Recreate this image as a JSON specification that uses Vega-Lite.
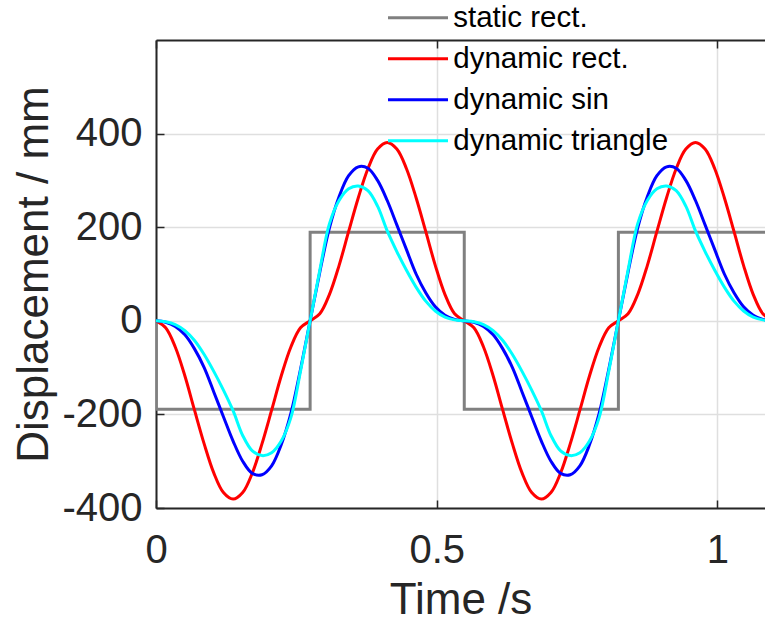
{
"$schema": "https://vega.github.io/schema/vega-lite/v6.json",
"width": 609, "height": 468,
"autosize": {"type": "none"},
"padding": {"left": 156, "top": 40, "right": 0, "bottom": 115},
"background": "white",
"config": {"view": {"stroke": null}, "font": "Liberation Sans"},
"datasets": {
"static": [
{"s":"static rect.","i":0,"t":0,"v":0},
{"s":"static rect.","i":1,"t":0,"v":-189},
{"s":"static rect.","i":2,"t":0.2745,"v":-189},
{"s":"static rect.","i":3,"t":0.2745,"v":189},
{"s":"static rect.","i":4,"t":0.549,"v":189},
{"s":"static rect.","i":5,"t":0.549,"v":-189},
{"s":"static rect.","i":6,"t":0.8235,"v":-189},
{"s":"static rect.","i":7,"t":0.8235,"v":189},
{"s":"static rect.","i":8,"t":1.098,"v":189}
],
"dyn": [
{"s":"dynamic rect.","t":0,"v":0},
{"s":"dynamic rect.","t":0.0172,"v":-15},
{"s":"dynamic rect.","t":0.0343,"v":-56},
{"s":"dynamic rect.","t":0.0515,"v":-118},
{"s":"dynamic rect.","t":0.0686,"v":-191},
{"s":"dynamic rect.","t":0.0858,"v":-263},
{"s":"dynamic rect.","t":0.1029,"v":-325},
{"s":"dynamic rect.","t":0.1201,"v":-367},
{"s":"dynamic rect.","t":0.1373,"v":-381},
{"s":"dynamic rect.","t":0.1544,"v":-367},
{"s":"dynamic rect.","t":0.1716,"v":-325},
{"s":"dynamic rect.","t":0.1887,"v":-263},
{"s":"dynamic rect.","t":0.2059,"v":-191},
{"s":"dynamic rect.","t":0.2230,"v":-118},
{"s":"dynamic rect.","t":0.2402,"v":-56},
{"s":"dynamic rect.","t":0.2573,"v":-15},
{"s":"dynamic rect.","t":0.2745,"v":0},
{"s":"dynamic rect.","t":0.2917,"v":15},
{"s":"dynamic rect.","t":0.3088,"v":56},
{"s":"dynamic rect.","t":0.3260,"v":118},
{"s":"dynamic rect.","t":0.3431,"v":191},
{"s":"dynamic rect.","t":0.3603,"v":263},
{"s":"dynamic rect.","t":0.3774,"v":325},
{"s":"dynamic rect.","t":0.3946,"v":367},
{"s":"dynamic rect.","t":0.4118,"v":381},
{"s":"dynamic rect.","t":0.4289,"v":367},
{"s":"dynamic rect.","t":0.4461,"v":325},
{"s":"dynamic rect.","t":0.4632,"v":263},
{"s":"dynamic rect.","t":0.4804,"v":191},
{"s":"dynamic rect.","t":0.4975,"v":118},
{"s":"dynamic rect.","t":0.5147,"v":56},
{"s":"dynamic rect.","t":0.5318,"v":15},
{"s":"dynamic rect.","t":0.5490,"v":0},
{"s":"dynamic rect.","t":0.5662,"v":-15},
{"s":"dynamic rect.","t":0.5833,"v":-56},
{"s":"dynamic rect.","t":0.6005,"v":-118},
{"s":"dynamic rect.","t":0.6176,"v":-191},
{"s":"dynamic rect.","t":0.6348,"v":-263},
{"s":"dynamic rect.","t":0.6519,"v":-325},
{"s":"dynamic rect.","t":0.6691,"v":-367},
{"s":"dynamic rect.","t":0.6863,"v":-381},
{"s":"dynamic rect.","t":0.7034,"v":-367},
{"s":"dynamic rect.","t":0.7206,"v":-325},
{"s":"dynamic rect.","t":0.7377,"v":-263},
{"s":"dynamic rect.","t":0.7549,"v":-191},
{"s":"dynamic rect.","t":0.7720,"v":-118},
{"s":"dynamic rect.","t":0.7892,"v":-56},
{"s":"dynamic rect.","t":0.8063,"v":-15},
{"s":"dynamic rect.","t":0.8235,"v":0},
{"s":"dynamic rect.","t":0.8407,"v":15},
{"s":"dynamic rect.","t":0.8578,"v":56},
{"s":"dynamic rect.","t":0.8750,"v":118},
{"s":"dynamic rect.","t":0.8921,"v":191},
{"s":"dynamic rect.","t":0.9093,"v":263},
{"s":"dynamic rect.","t":0.9264,"v":325},
{"s":"dynamic rect.","t":0.9436,"v":367},
{"s":"dynamic rect.","t":0.9608,"v":381},
{"s":"dynamic rect.","t":0.9779,"v":367},
{"s":"dynamic rect.","t":0.9951,"v":325},
{"s":"dynamic rect.","t":1.0122,"v":263},
{"s":"dynamic rect.","t":1.0294,"v":191},
{"s":"dynamic rect.","t":1.0465,"v":118},
{"s":"dynamic rect.","t":1.0637,"v":56},
{"s":"dynamic rect.","t":1.0808,"v":15},
{"s":"dynamic rect.","t":1.0980,"v":0},
{"s":"dynamic sin","t":0,"v":0},
{"s":"dynamic sin","t":0.0172,"v":-3},
{"s":"dynamic sin","t":0.0343,"v":-12},
{"s":"dynamic sin","t":0.0515,"v":-30},
{"s":"dynamic sin","t":0.0686,"v":-60},
{"s":"dynamic sin","t":0.0858,"v":-100},
{"s":"dynamic sin","t":0.1029,"v":-152},
{"s":"dynamic sin","t":0.1201,"v":-205},
{"s":"dynamic sin","t":0.1373,"v":-257},
{"s":"dynamic sin","t":0.1544,"v":-300},
{"s":"dynamic sin","t":0.1716,"v":-326},
{"s":"dynamic sin","t":0.1887,"v":-329},
{"s":"dynamic sin","t":0.2059,"v":-310},
{"s":"dynamic sin","t":0.2230,"v":-265},
{"s":"dynamic sin","t":0.2402,"v":-198},
{"s":"dynamic sin","t":0.2573,"v":-104},
{"s":"dynamic sin","t":0.2745,"v":0},
{"s":"dynamic sin","t":0.2917,"v":104},
{"s":"dynamic sin","t":0.3088,"v":198},
{"s":"dynamic sin","t":0.3260,"v":265},
{"s":"dynamic sin","t":0.3431,"v":310},
{"s":"dynamic sin","t":0.3603,"v":329},
{"s":"dynamic sin","t":0.3774,"v":326},
{"s":"dynamic sin","t":0.3946,"v":300},
{"s":"dynamic sin","t":0.4118,"v":257},
{"s":"dynamic sin","t":0.4289,"v":205},
{"s":"dynamic sin","t":0.4461,"v":152},
{"s":"dynamic sin","t":0.4632,"v":100},
{"s":"dynamic sin","t":0.4804,"v":60},
{"s":"dynamic sin","t":0.4975,"v":30},
{"s":"dynamic sin","t":0.5147,"v":12},
{"s":"dynamic sin","t":0.5318,"v":3},
{"s":"dynamic sin","t":0.5490,"v":0},
{"s":"dynamic sin","t":0.5662,"v":-3},
{"s":"dynamic sin","t":0.5833,"v":-12},
{"s":"dynamic sin","t":0.6005,"v":-30},
{"s":"dynamic sin","t":0.6176,"v":-60},
{"s":"dynamic sin","t":0.6348,"v":-100},
{"s":"dynamic sin","t":0.6519,"v":-152},
{"s":"dynamic sin","t":0.6691,"v":-205},
{"s":"dynamic sin","t":0.6863,"v":-257},
{"s":"dynamic sin","t":0.7034,"v":-300},
{"s":"dynamic sin","t":0.7206,"v":-326},
{"s":"dynamic sin","t":0.7377,"v":-329},
{"s":"dynamic sin","t":0.7549,"v":-310},
{"s":"dynamic sin","t":0.7720,"v":-265},
{"s":"dynamic sin","t":0.7892,"v":-198},
{"s":"dynamic sin","t":0.8063,"v":-104},
{"s":"dynamic sin","t":0.8235,"v":0},
{"s":"dynamic sin","t":0.8407,"v":104},
{"s":"dynamic sin","t":0.8578,"v":198},
{"s":"dynamic sin","t":0.8750,"v":265},
{"s":"dynamic sin","t":0.8921,"v":310},
{"s":"dynamic sin","t":0.9093,"v":329},
{"s":"dynamic sin","t":0.9264,"v":326},
{"s":"dynamic sin","t":0.9436,"v":300},
{"s":"dynamic sin","t":0.9608,"v":257},
{"s":"dynamic sin","t":0.9779,"v":205},
{"s":"dynamic sin","t":0.9951,"v":152},
{"s":"dynamic sin","t":1.0122,"v":100},
{"s":"dynamic sin","t":1.0294,"v":60},
{"s":"dynamic sin","t":1.0465,"v":30},
{"s":"dynamic sin","t":1.0637,"v":12},
{"s":"dynamic sin","t":1.0808,"v":3},
{"s":"dynamic sin","t":1.0980,"v":0},
{"s":"dynamic triangle","t":0,"v":0},
{"s":"dynamic triangle","t":0.0172,"v":-2},
{"s":"dynamic triangle","t":0.0343,"v":-8},
{"s":"dynamic triangle","t":0.0515,"v":-21},
{"s":"dynamic triangle","t":0.0686,"v":-42},
{"s":"dynamic triangle","t":0.0858,"v":-72},
{"s":"dynamic triangle","t":0.1029,"v":-108},
{"s":"dynamic triangle","t":0.1201,"v":-148},
{"s":"dynamic triangle","t":0.1373,"v":-192},
{"s":"dynamic triangle","t":0.1544,"v":-245},
{"s":"dynamic triangle","t":0.1716,"v":-278},
{"s":"dynamic triangle","t":0.1887,"v":-288},
{"s":"dynamic triangle","t":0.2059,"v":-282},
{"s":"dynamic triangle","t":0.2230,"v":-257},
{"s":"dynamic triangle","t":0.2402,"v":-207},
{"s":"dynamic triangle","t":0.2573,"v":-108},
{"s":"dynamic triangle","t":0.2745,"v":0},
{"s":"dynamic triangle","t":0.2917,"v":108},
{"s":"dynamic triangle","t":0.3088,"v":207},
{"s":"dynamic triangle","t":0.3260,"v":257},
{"s":"dynamic triangle","t":0.3431,"v":282},
{"s":"dynamic triangle","t":0.3603,"v":288},
{"s":"dynamic triangle","t":0.3774,"v":278},
{"s":"dynamic triangle","t":0.3946,"v":245},
{"s":"dynamic triangle","t":0.4118,"v":192},
{"s":"dynamic triangle","t":0.4289,"v":148},
{"s":"dynamic triangle","t":0.4461,"v":108},
{"s":"dynamic triangle","t":0.4632,"v":72},
{"s":"dynamic triangle","t":0.4804,"v":42},
{"s":"dynamic triangle","t":0.4975,"v":21},
{"s":"dynamic triangle","t":0.5147,"v":8},
{"s":"dynamic triangle","t":0.5318,"v":2},
{"s":"dynamic triangle","t":0.5490,"v":0},
{"s":"dynamic triangle","t":0.5662,"v":-2},
{"s":"dynamic triangle","t":0.5833,"v":-8},
{"s":"dynamic triangle","t":0.6005,"v":-21},
{"s":"dynamic triangle","t":0.6176,"v":-42},
{"s":"dynamic triangle","t":0.6348,"v":-72},
{"s":"dynamic triangle","t":0.6519,"v":-108},
{"s":"dynamic triangle","t":0.6691,"v":-148},
{"s":"dynamic triangle","t":0.6863,"v":-192},
{"s":"dynamic triangle","t":0.7034,"v":-245},
{"s":"dynamic triangle","t":0.7206,"v":-278},
{"s":"dynamic triangle","t":0.7377,"v":-288},
{"s":"dynamic triangle","t":0.7549,"v":-282},
{"s":"dynamic triangle","t":0.7720,"v":-257},
{"s":"dynamic triangle","t":0.7892,"v":-207},
{"s":"dynamic triangle","t":0.8063,"v":-108},
{"s":"dynamic triangle","t":0.8235,"v":0},
{"s":"dynamic triangle","t":0.8407,"v":108},
{"s":"dynamic triangle","t":0.8578,"v":207},
{"s":"dynamic triangle","t":0.8750,"v":257},
{"s":"dynamic triangle","t":0.8921,"v":282},
{"s":"dynamic triangle","t":0.9093,"v":288},
{"s":"dynamic triangle","t":0.9264,"v":278},
{"s":"dynamic triangle","t":0.9436,"v":245},
{"s":"dynamic triangle","t":0.9608,"v":192},
{"s":"dynamic triangle","t":0.9779,"v":148},
{"s":"dynamic triangle","t":0.9951,"v":108},
{"s":"dynamic triangle","t":1.0122,"v":72},
{"s":"dynamic triangle","t":1.0294,"v":42},
{"s":"dynamic triangle","t":1.0465,"v":21},
{"s":"dynamic triangle","t":1.0637,"v":8},
{"s":"dynamic triangle","t":1.0808,"v":2},
{"s":"dynamic triangle","t":1.0980,"v":0}
]
},
"encoding": {
  "y": {"field": "v", "type": "quantitative",
    "scale": {"domain": [-400, 600], "nice": false, "zero": false},
    "axis": {"values": [-400, -200, 0, 200, 400], "labelExpr": "datum.value + ''",
      "title": "Displacement / mm", "grid": true, "gridColor": "#dfdfdf", "gridWidth": 1.5,
      "domainColor": "#262626", "domainWidth": 2, "tickColor": "#262626", "tickWidth": 1.5, "tickSize": -8,
      "labelFont": "Liberation Sans", "labelFontSize": 40, "labelColor": "#262626", "labelPadding": 22,
      "titleFont": "Liberation Sans", "titleFontSize": 44, "titleColor": "#262626", "titleFontWeight": "normal",
      "titleX": -109, "titleY": 234, "titleAngle": 270, "titleBaseline": "alphabetic", "titleAlign": "center"}},
  "color": {"field": "s", "type": "nominal",
    "scale": {"domain": ["static rect.", "dynamic rect.", "dynamic sin", "dynamic triangle"],
              "range": ["#808080", "#ff0000", "#0000ff", "#00ffff"]},
    "legend": {"orient": "none", "legendX": 232, "legendY": -37, "title": null, "padding": 0,
      "symbolType": "M-3,0H3", "symbolSize": 400, "symbolStrokeWidth": 3, "symbolOffset": 15.25,
      "labelOffset": 20.5, "labelFont": "Liberation Sans", "labelFontSize": 29.5, "labelColor": "#000000",
      "rowPadding": 10, "labelLimit": 0, "direction": "vertical"}}
},
"layer": [
  {
    "data": {"name": "static"},
    "mark": {"type": "line", "clip": true, "strokeWidth": 3},
    "encoding": {
      "x": {"field": "t", "type": "quantitative", "scale": {"domain": [0, 1.0846], "nice": false},
        "axis": {"orient": "bottom", "values": [0, 0.5, 1], "labelExpr": "datum.value + ''",
          "title": "Time /s", "grid": true, "gridColor": "#dfdfdf", "gridWidth": 1.5,
          "domainColor": "#262626", "domainWidth": 2, "tickColor": "#262626", "tickWidth": 1.5, "tickSize": -8,
          "labelFont": "Liberation Sans", "labelFontSize": 40, "labelColor": "#262626", "labelPadding": 62,
          "labelBaseline": "alphabetic", "labelFlush": false,
          "titleFont": "Liberation Sans", "titleFontSize": 44, "titleColor": "#262626", "titleFontWeight": "normal",
          "titleX": 304.5, "titleY": 105, "titleBaseline": "alphabetic", "titleAlign": "center"}},
      "order": {"field": "i", "type": "quantitative"}
    }
  },
  {
    "data": {"name": "dyn"},
    "mark": {"type": "line", "clip": true, "strokeWidth": 3, "interpolate": "catmull-rom"},
    "encoding": {
      "x": {"field": "t", "type": "quantitative", "scale": {"domain": [0, 1.0846], "nice": false},
        "axis": {"orient": "top", "values": [0, 0.5, 1], "labels": false, "title": null, "grid": false,
          "domainColor": "#262626", "domainWidth": 2, "tickColor": "#262626", "tickWidth": 1.5, "tickSize": -8}}
    }
  }
],
"resolve": {"axis": {"x": "independent"}}
}
